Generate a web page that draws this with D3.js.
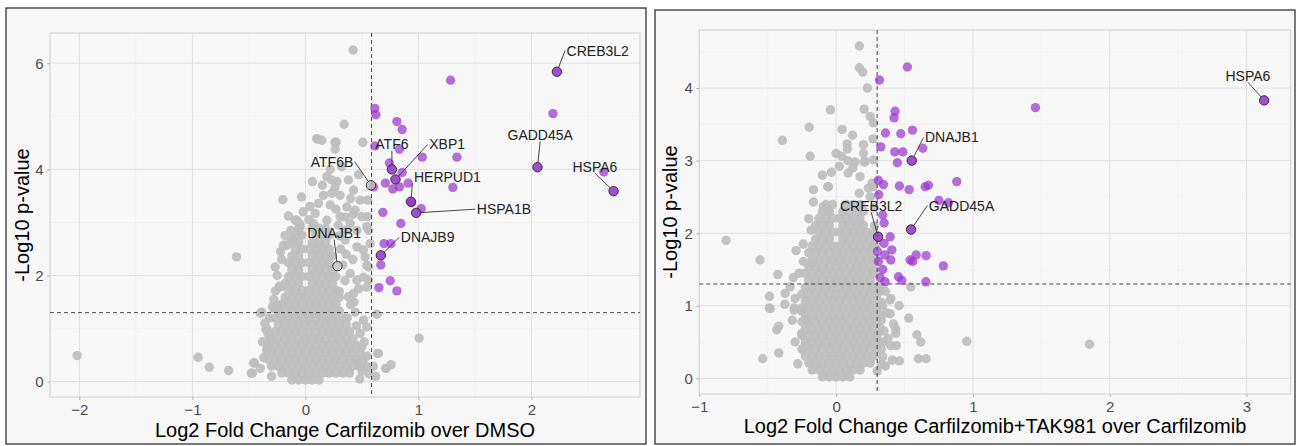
<!DOCTYPE html>
<html>
<head>
<meta charset="utf-8">
<script src="https://cdn.jsdelivr.net/npm/d3@7"></script>
<style>
  body { margin: 0; background: #fff; }
  text { font-family: "Liberation Sans", Arial, sans-serif; }
</style>
</head>
<body>
<svg id="chart" width="1296" height="446"></svg>
<script>
// ---- left: Carfilzomib over DMSO ----
var leftTitle = "Log2 Fold Change Carfilzomib over DMSO";
var leftXTicks = [-2, -1, 0, 1, 2], leftXMinor = [-1.5, -0.5, 0.5, 1.5, 2.5];
var leftYTicks = [0, 2, 4, 6], leftYMinor = [1, 3, 5];
var leftCuts = [0.585, 1.30];   // fold change, -log10 p

// scattered non-significant proteins [log2FC, -log10 p]
var leftGrey = [[-2.02,0.49],[-0.95,0.46],[-0.85,0.27],[-0.68,0.21],[-0.47,0.16],[-0.45,0.35],[-0.61,2.35],
  [-0.20,3.43],[-0.035,3.48],[0.062,3.77],[0.10,4.58],[0.145,4.55],[-0.15,3.12],[-0.088,3.04],[-0.05,2.97],
  [-0.195,2.57],[-0.165,2.57],[-0.268,2.16],[-0.23,1.80],[-0.265,1.71],[-0.292,1.41],[-0.239,1.41],[-0.40,1.29],
  [-0.35,0.98],[-0.33,0.90],[-0.34,0.62],[0.422,6.25],[0.342,4.85],[0.508,4.51],[0.26,4.51],[1.006,0.82],
  [0.106,4.57],[0.272,4.51],[0.263,4.38],[0.219,4.0],[0.189,3.86],[0.233,3.80],[0.278,3.77],[0.38,3.80],
  [0.425,3.61],[0.233,3.55],[0.159,3.51],[0.307,3.51],[0.484,3.42],[0.115,3.36],[0.219,3.33],[0.366,3.29],
  [0.44,3.23],[0.086,3.17],[0.307,3.11],[0.499,3.11],[-0.076,3.04],[-0.047,2.92],[0.071,2.98],[0.189,3.04],
  [0.396,2.98],[0.455,2.85],[0.543,2.92],[-0.12,2.67],[0.351,2.67],[0.455,2.54],[0.513,2.48],[0.558,2.16],
  [0.396,2.04],[0.455,1.91],[0.513,1.97],[-0.224,1.78],[0.543,1.78],[0.425,1.66],[-0.283,1.38],[-0.386,1.31],
  [-0.342,1.0],[-0.312,0.78],[0.484,0.91],[0.513,1.16],[0.44,1.31],[0.499,0.65],[-0.46,0.35],[-0.48,0.16],
  [-0.342,0.59],[0.549,3.42],[0.549,3.11],[0.558,2.85],[0.573,2.6],[0.528,2.35],[0.558,1.91],[0.543,2.19],
  [0.632,1.27],[0.543,1.03],[0.646,0.53],[0.543,0.48],[0.714,0.25],[0.637,0.53],[0.758,0.32],[0.71,0.25],
  [0.40,1.45],[0.38,1.60],[0.35,1.90],[0.33,2.20],[0.31,2.50],[0.42,2.30],[0.36,2.40],[0.30,2.75],[0.35,3.10],
  [0.27,3.25],[0.40,3.45],[0.47,3.90],[0.32,4.05],[0.15,3.70],[0.04,3.30],[-0.02,3.20],[0.47,0.35],[0.56,0.15],
  [0.62,0.10],[0.48,0.05],[0.29,2.95],[0.26,3.65],[0.03,3.05],[-0.13,2.85],[-0.21,2.30],[0.30,1.70],[0.37,1.20],
  [-0.25,2.00],[-0.28,1.55],[-0.32,1.20],[-0.36,1.10],[-0.38,0.75],[-0.37,0.45],[-0.40,0.25],[-0.30,0.10],
  [0.50,0.20],[0.52,0.75],[0.45,1.05],[0.43,1.50],[0.47,1.75],[-0.18,2.75],[-0.22,2.45],[0.35,2.85],[0.42,3.15]];

// dense centre of the cloud, row by row: [-log10 p, log2FC, log2FC, ...]
var leftGreyCore = [
  [0.03,-0.12,-0.06,0.00,0.06,0.12],
  [0.16,-0.21,-0.15,-0.09,-0.03,0.03,0.09,0.15,0.21,0.27,0.33,0.39],
  [0.29,-0.30,-0.24,-0.18,-0.12,-0.06,0.00,0.06,0.12,0.18,0.24,0.30,0.36,0.42,0.48,0.54,0.60],
  [0.42,-0.33,-0.27,-0.21,-0.15,-0.09,-0.03,0.03,0.09,0.15,0.21,0.27,0.33,0.39,0.45,0.51],
  [0.55,-0.30,-0.24,-0.18,-0.12,-0.06,0.00,0.06,0.12,0.18,0.24,0.30,0.36,0.42,0.48],
  [0.68,-0.33,-0.27,-0.21,-0.15,-0.09,-0.03,0.03,0.09,0.15,0.21,0.27,0.33,0.39,0.45],
  [0.81,-0.30,-0.24,-0.18,-0.12,-0.06,0.00,0.06,0.12,0.18,0.24,0.30,0.36,0.42],
  [0.94,-0.27,-0.21,-0.15,-0.09,-0.03,0.03,0.09,0.15,0.21,0.27,0.33,0.39],
  [1.07,-0.24,-0.18,-0.12,-0.06,0.00,0.06,0.12,0.18,0.24,0.30,0.36],
  [1.20,-0.27,-0.21,-0.15,-0.09,-0.03,0.03,0.09,0.15,0.21,0.27,0.33],
  [1.33,-0.24,-0.18,-0.12,-0.06,0.00,0.06,0.12,0.18,0.24,0.30],
  [1.46,-0.21,-0.15,-0.09,-0.03,0.03,0.09,0.15,0.21,0.27],
  [1.59,-0.18,-0.12,-0.06,0.00,0.06,0.12,0.18,0.24,0.30],
  [1.72,-0.15,-0.09,-0.03,0.03,0.09,0.15,0.21,0.27],
  [1.85,-0.18,-0.12,-0.06,0.06,0.12,0.18,0.24],
  [1.98,-0.15,-0.09,-0.03,0.03,0.09,0.15,0.21,0.27],
  [2.11,-0.12,-0.06,0.06,0.12,0.18,0.24],
  [2.24,-0.15,-0.09,-0.03,0.03,0.09,0.15,0.21],
  [2.37,-0.12,-0.06,0.06,0.12,0.18,0.24],
  [2.50,-0.09,-0.03,0.03,0.09,0.15,0.21],
  [2.63,-0.12,-0.06,0.06,0.12,0.18],
  [2.76,-0.09,-0.03,0.09,0.15,0.21],
  [2.89,-0.06,0.06,0.12,0.18]];

var leftPurple = [[0.614,5.15],[0.623,5.03],[0.809,4.90],[0.856,4.75],[0.614,4.44],[0.832,4.38],[1.033,4.23],
  [1.34,4.23],[0.743,4.12],[0.856,3.94],[0.708,3.74],[0.773,3.63],[0.832,3.67],[0.909,3.74],[1.304,3.66],
  [0.602,3.67],[0.94,3.37],[1.024,3.26],[0.685,3.19],[0.844,2.98],[0.696,2.60],[0.756,2.60],[0.667,2.20],
  [0.75,1.90],[0.65,1.77],[0.809,1.71],[1.284,5.68],[2.19,5.05],[2.64,3.95]];

var leftLabelled = [
  {gene: "CREB3L2", fc: 2.225, p: 5.84, up: true},
  {gene: "GADD45A", fc: 2.053, p: 4.04, up: true},
  {gene: "HSPA6", fc: 2.726, p: 3.59, up: true},
  {gene: "HSPA1B", fc: 0.98, p: 3.18, up: true},
  {gene: "HERPUD1", fc: 0.933, p: 3.39, up: true},
  {gene: "XBP1", fc: 0.797, p: 3.81, up: true},
  {gene: "ATF6", fc: 0.765, p: 4.00, up: true},
  {gene: "DNAJB9", fc: 0.667, p: 2.38, up: true},
  {gene: "ATF6B", fc: 0.58, p: 3.70, up: false},
  {gene: "DNAJB1", fc: 0.283, p: 2.175, up: false}];
// where the repelled text sits (data units) and which side of it the segment meets
var leftLabelPos = {CREB3L2: [2.586, 6.24, "l"], GADD45A: [2.077, 4.65, "b"], HSPA6: [2.561, 4.05, "b"],
  HSPA1B: [1.756, 3.25, "l"], HERPUD1: [1.256, 3.86, "bl"], XBP1: [1.254, 4.47, "l"], ATF6: [0.765, 4.47, "b"],
  DNAJB9: [1.081, 2.72, "l"], ATF6B: [0.235, 4.14, "r"], DNAJB1: [0.254, 2.80, "b"]};

// ---- right: Carfilzomib+TAK981 over Carfilzomib ----
var rightTitle = "Log2 Fold Change Carfilzomib+TAK981 over Carfilzomib";
var rightXTicks = [-1, 0, 1, 2, 3], rightXMinor = [-0.5, 0.5, 1.5, 2.5];
var rightYTicks = [0, 1, 2, 3, 4], rightYMinor = [0.5, 1.5, 2.5, 3.5, 4.5];
var rightCuts = [0.30, 1.30];

var rightGrey = [[0.170,4.58],[0.170,4.28],[0.195,4.22],[0.229,4.00],[-0.042,3.70],[0.205,3.71],[0.249,3.61],
  [-0.197,3.46],[0.044,3.43],[-0.393,3.28],[0.080,3.23],[0.083,3.16],[-0.19,3.06],[0.041,3.06],[0.20,3.10],
  [0.207,2.98],[0.085,3.00],[-0.034,2.84],[0.024,2.92],[0.088,2.83],[0.175,2.78],[0.263,2.69],[-0.056,2.64],
  [-0.166,2.43],[-0.804,1.90],[-0.556,1.63],[-0.426,1.43],[-0.292,1.76],[-0.183,2.04],[-0.487,1.13],
  [-0.373,1.17],[-0.375,1.02],[-0.482,0.96],[-0.307,0.94],[-0.419,0.72],[-0.434,0.67],[-0.536,0.27],
  [-0.419,0.35],[-0.239,0.41],[0.463,0.24],[0.602,0.27],[0.658,0.27],[0.59,0.60],[0.619,0.50],[0.955,0.51],
  [0.531,0.83],[0.546,1.26],[0.436,0.68],[0.436,0.62],[0.36,0.17],[0.395,0.89],[0.395,1.08],[1.852,0.47],
  [0.139,2.98],[0.273,3.01],[0.236,2.62],[-0.166,2.60],[-0.093,2.37],[-0.056,2.30],[-0.061,2.64],
  [-0.239,1.61],[-0.178,1.60],[-0.312,1.39],[-0.336,1.26],[-0.251,0.93],[-0.251,0.62],[-0.214,0.80],
  [-0.227,0.44],[-0.305,0.97],[-0.488,0.97],[0.122,2.90],[0.17,2.55],[0.25,2.50],[0.28,2.35],[0.28,2.10],
  [0.29,1.85],[0.32,1.20],[0.34,1.00],[0.33,0.80],[0.35,0.50],[0.34,0.30],[0.273,3.52],[0.20,3.22],
  [0.212,2.99],[0.273,2.64],[0.27,3.30],[0.12,3.35],[0.00,3.10],[-0.10,2.80],[0.40,0.45],[0.30,0.10],
  [0.36,1.20],[0.40,1.10],[0.33,1.05],[0.37,0.90],[0.42,0.75],[0.35,0.65],[0.38,0.55],[0.44,0.45],
  [0.33,0.40],[0.41,0.25],[0.33,0.20],[0.46,1.00],[0.31,1.27],[-0.28,0.20],[-0.30,0.50],[-0.32,0.80],
  [-0.30,1.10],[-0.27,1.45],[-0.24,1.85],[-0.20,2.20],[0.28,1.50],[0.29,1.65],[0.28,2.00]];

var rightGreyCore = [
  [0.02,-0.10,-0.05,0.00,0.05,0.10],
  [0.115,-0.175,-0.125,-0.075,-0.025,0.025,0.075,0.125,0.175],
  [0.21,-0.20,-0.15,-0.10,-0.05,0.00,0.05,0.10,0.15,0.20,0.25],
  [0.305,-0.225,-0.175,-0.125,-0.075,-0.025,0.025,0.075,0.125,0.175,0.225,0.275],
  [0.40,-0.25,-0.20,-0.15,-0.10,-0.05,0.00,0.05,0.10,0.15,0.20,0.25,0.30],
  [0.495,-0.225,-0.175,-0.125,-0.075,-0.025,0.025,0.075,0.125,0.175,0.225,0.275,0.325],
  [0.59,-0.25,-0.20,-0.15,-0.10,-0.05,0.00,0.05,0.10,0.15,0.20,0.25,0.30],
  [0.685,-0.225,-0.175,-0.125,-0.075,-0.025,0.025,0.075,0.125,0.175,0.225,0.275,0.325],
  [0.78,-0.25,-0.20,-0.15,-0.10,-0.05,0.00,0.05,0.10,0.15,0.20,0.25,0.30],
  [0.875,-0.225,-0.175,-0.125,-0.075,-0.025,0.025,0.075,0.125,0.175,0.225,0.275,0.325],
  [0.97,-0.25,-0.20,-0.15,-0.10,-0.05,0.00,0.05,0.10,0.15,0.20,0.25,0.30],
  [1.065,-0.225,-0.175,-0.125,-0.075,-0.025,0.025,0.075,0.125,0.175,0.225,0.275],
  [1.16,-0.25,-0.20,-0.15,-0.10,-0.05,0.00,0.05,0.10,0.15,0.20,0.25,0.30],
  [1.255,-0.225,-0.175,-0.125,-0.075,-0.025,0.025,0.075,0.125,0.175,0.225,0.275],
  [1.35,-0.20,-0.15,-0.10,-0.05,0.00,0.05,0.10,0.15,0.20,0.25],
  [1.445,-0.225,-0.175,-0.125,-0.075,-0.025,0.025,0.075,0.125,0.175,0.225,0.275],
  [1.54,-0.20,-0.15,-0.10,-0.05,0.00,0.05,0.10,0.15,0.20,0.25],
  [1.635,-0.175,-0.125,-0.075,-0.025,0.025,0.075,0.125,0.175,0.225,0.275],
  [1.73,-0.20,-0.15,-0.10,-0.05,0.00,0.05,0.10,0.15,0.20,0.25],
  [1.825,-0.175,-0.125,-0.075,-0.025,0.025,0.075,0.125,0.175,0.225,0.275],
  [1.92,-0.15,-0.10,-0.05,0.05,0.10,0.15,0.20,0.25],
  [2.015,-0.125,-0.075,-0.025,0.025,0.075,0.125,0.175,0.225],
  [2.11,-0.15,-0.10,-0.05,0.05,0.10,0.15,0.20],
  [2.205,-0.125,-0.075,-0.025,0.025,0.075,0.125,0.175],
  [2.30,-0.10,-0.05,0.05,0.10,0.15,0.20],
  [2.395,-0.075,-0.025,0.075,0.125,0.175]];

var rightPurple = [[0.521,4.29],[0.317,4.11],[0.431,3.68],[0.424,3.59],[0.361,3.38],[0.473,3.37],[0.558,3.42],
  [0.634,3.17],[0.327,3.19],[0.429,3.12],[0.488,3.12],[0.448,2.97],[0.309,2.73],[0.346,2.67],[0.463,2.65],
  [0.534,2.60],[0.651,2.64],[0.675,2.66],[0.882,2.71],[0.312,2.53],[0.751,2.45],[0.821,2.42],[0.341,2.25],
  [0.351,2.14],[0.395,1.95],[0.351,1.86],[0.407,1.77],[0.302,1.75],[0.356,1.70],[0.585,1.70],[0.658,1.69],
  [0.541,1.63],[0.56,1.61],[0.40,1.63],[0.784,1.55],[0.309,1.61],[0.341,1.50],[0.322,1.39],[0.456,1.40],
  [0.48,1.35],[0.358,1.33],[0.656,1.33],[1.457,3.73]];

var rightLabelled = [
  {gene: "HSPA6", fc: 3.129, p: 3.83, up: true},
  {gene: "DNAJB1", fc: 0.553, p: 3.00, up: true},
  {gene: "GADD45A", fc: 0.548, p: 2.05, up: true},
  {gene: "CREB3L2", fc: 0.307, p: 1.95, up: true}];
var rightLabelPos = {HSPA6: [3.01, 4.17, "b"], DNAJB1: [0.846, 3.32, "l"],
  GADD45A: [0.917, 2.38, "l"], CREB3L2: [0.256, 2.38, "b"]};

var svg = d3.select("#chart");
var R = 4.7;

function drawPanel(p) {
  var g = svg.append("g");
  g.append("rect")
      .attr("x", p.frame[0]).attr("y", p.frame[1])
      .attr("width", p.frame[2] - p.frame[0]).attr("height", p.frame[3] - p.frame[1])
      .attr("fill", "#f7f7f7").attr("stroke", "#333").attr("stroke-width", 1.3);

  var x = d3.scaleLinear().domain(p.xDomain).range([p.box[0], p.box[2]]);
  var y = d3.scaleLinear().domain(p.yDomain).range([p.box[3], p.box[1]]);

  // grid
  g.selectAll(null).data(p.xMinor).enter().append("line")
      .attr("x1", d => x(d)).attr("x2", d => x(d)).attr("y1", p.box[1]).attr("y2", p.box[3])
      .attr("stroke", "#ececec").attr("stroke-width", 0.6);
  g.selectAll(null).data(p.yMinor).enter().append("line")
      .attr("y1", d => y(d)).attr("y2", d => y(d)).attr("x1", p.box[0]).attr("x2", p.box[2])
      .attr("stroke", "#ececec").attr("stroke-width", 0.6);
  g.selectAll(null).data(p.xTicks).enter().append("line")
      .attr("x1", d => x(d)).attr("x2", d => x(d)).attr("y1", p.box[1]).attr("y2", p.box[3])
      .attr("stroke", "#e0e0e0").attr("stroke-width", 1);
  g.selectAll(null).data(p.yTicks).enter().append("line")
      .attr("y1", d => y(d)).attr("y2", d => y(d)).attr("x1", p.box[0]).attr("x2", p.box[2])
      .attr("stroke", "#e0e0e0").attr("stroke-width", 1);
  g.append("rect")
      .attr("x", p.box[0]).attr("y", p.box[1])
      .attr("width", p.box[2] - p.box[0]).attr("height", p.box[3] - p.box[1])
      .attr("fill", "none").attr("stroke", "#d0d0d0").attr("stroke-width", 1);

  // axes
  var xAxis = g.append("g").attr("transform", "translate(0," + p.box[3] + ")")
      .call(d3.axisBottom(x).tickValues(p.xTicks).tickSize(3).tickSizeOuter(0).tickPadding(4.5).tickFormat(d3.format("d")));
  var yAxis = g.append("g").attr("transform", "translate(" + p.box[0] + ",0)")
      .call(d3.axisLeft(y).tickValues(p.yTicks).tickSize(3).tickSizeOuter(0).tickPadding(3.5).tickFormat(d3.format("d")));
  [xAxis, yAxis].forEach(function(a) {
    a.select(".domain").remove();
    a.selectAll(".tick line").attr("stroke", "#b3b3b3");
    a.selectAll(".tick text").attr("fill", "#4d4d4d").style("font-size", "15px")
        .style("font-family", "'Liberation Sans', Arial, sans-serif");
  });

  g.append("text")
      .attr("x", (p.box[0] + p.box[2]) / 2).attr("y", p.xTitleY)
      .attr("text-anchor", "middle").style("font-size", "20px").attr("fill", "#000")
      .text(p.title);
  g.append("text")
      .attr("transform", "translate(" + p.yTitleX + "," + ((p.box[1] + p.box[3]) / 2) + ") rotate(-90)")
      .attr("text-anchor", "middle").style("font-size", "20px").attr("fill", "#000")
      .text("-Log10 p-value");

  var marks = g.append("g");

  // flatten the core rows
  var core = [];
  p.core.forEach(function(row) {
    row.slice(1).forEach(function(fc) { core.push([fc, row[0]]); });
  });
  var grey = core.concat(p.grey, p.labelled.filter(d => !d.up).map(d => [d.fc, d.p]));
  var purple = p.purple.concat(p.labelled.filter(d => d.up).map(d => [d.fc, d.p]));

  marks.selectAll(null).data(grey).enter().append("circle")
      .attr("cx", d => x(d[0])).attr("cy", d => y(d[1])).attr("r", R)
      .attr("fill", "#bdbdbd").attr("fill-opacity", 0.93);

  // significance cut-offs
  marks.append("line")
      .attr("x1", x(p.cuts[0])).attr("x2", x(p.cuts[0])).attr("y1", p.box[1]).attr("y2", p.box[3])
      .attr("stroke", "#333").attr("stroke-width", 0.9).attr("stroke-dasharray", "4,3");
  marks.append("line")
      .attr("x1", p.box[0]).attr("x2", p.box[2]).attr("y1", y(p.cuts[1])).attr("y2", y(p.cuts[1]))
      .attr("stroke", "#333").attr("stroke-width", 0.9).attr("stroke-dasharray", "4,3");

  marks.selectAll(null).data(purple).enter().append("circle")
      .attr("cx", d => x(d[0])).attr("cy", d => y(d[1])).attr("r", R)
      .attr("fill", "#9932cc").attr("fill-opacity", 0.7);

  // labelled proteins
  var segs = g.append("g"), rings = g.append("g"), texts = g.append("g");
  p.labelled.forEach(function(d) {
    var pos = p.labelPos[d.gene];
    var px = x(d.fc), py = y(d.p);
    var cx = x(pos[0]), cy = y(pos[1]);
    var t = texts.append("text")
        .attr("x", cx).attr("y", cy)
        .attr("text-anchor", "middle").attr("dominant-baseline", "central")
        .style("font-size", "14px").attr("fill", "#222")
        .text(d.gene);
    var b = t.node().getBBox();
    var L = b.x - 1.5, Rt = b.x + b.width + 1.5, Bt = cy + 6.5;
    var end = {l: [L, cy], r: [Rt, cy], b: [cx, Bt], bl: [L, Bt]}[pos[2]];
    var dx = end[0] - px, dy = end[1] - py, len = Math.sqrt(dx * dx + dy * dy);
    segs.append("line")
        .attr("x1", px + dx / len * R).attr("y1", py + dy / len * R)
        .attr("x2", end[0]).attr("y2", end[1])
        .attr("stroke", "#333").attr("stroke-width", 0.9);
    rings.append("circle")
        .attr("cx", px).attr("cy", py).attr("r", R)
        .attr("fill", d.up ? "#9932cc" : "#d0d0d0").attr("fill-opacity", d.up ? 0.55 : 0.7)
        .attr("stroke", "#333").attr("stroke-width", 1);
  });
}

drawPanel({
  frame: [6, 8, 646, 444], box: [50, 33, 640, 397],
  xDomain: [-2.26, 2.96], yDomain: [-0.29, 6.57],
  xTicks: leftXTicks, xMinor: leftXMinor, yTicks: leftYTicks, yMinor: leftYMinor,
  cuts: leftCuts, title: leftTitle, xTitleY: 437, yTitleX: 28.5,
  grey: leftGrey, core: leftGreyCore, purple: leftPurple,
  labelled: leftLabelled, labelPos: leftLabelPos
});

drawPanel({
  frame: [655, 10, 1295, 444], box: [699.3, 30, 1290.7, 394],
  xDomain: [-1.0, 3.323], yDomain: [-0.216, 4.80],
  xTicks: rightXTicks, xMinor: rightXMinor, yTicks: rightYTicks, yMinor: rightYMinor,
  cuts: rightCuts, title: rightTitle, xTitleY: 433, yTitleX: 677,
  grey: rightGrey, core: rightGreyCore, purple: rightPurple,
  labelled: rightLabelled, labelPos: rightLabelPos
});
</script>
</body>
</html>
